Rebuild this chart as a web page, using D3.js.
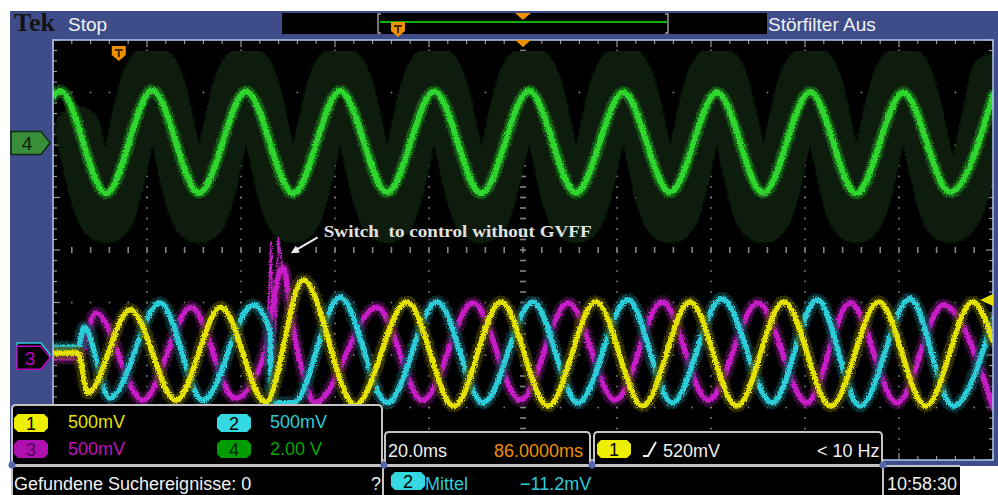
<!DOCTYPE html>
<html lang="en">
<head>
<meta charset="UTF-8">
<title>Tek Stop - switch to control without GVFF</title>
<script src="https://d3js.org/d3.v7.min.js"></script>
<style>
  body { margin: 0; background: #fff; }
  svg { display: block; }
  text { font-family: "Liberation Sans", Arial, sans-serif; }
</style>
</head>
<body>
<div id="chart"></div>
<script>
// horizontal: 20 ms/div over 10 div, vertical: 8 div
const xMajor = d3.range(0, 201, 20);
const xMinor = d3.range(0, 201, 4);
const yMajor = d3.range(-4, 5, 1);
const yMinor = d3.range(-4, 4.01, 0.2).map(v => +v.toFixed(1));

// traces: [time ms, divisions]
const ch4 = [[0, 2.93], [1.5, 3.03], [11.3, 1.08], [21.1, 3.04], [31.1, 1.09], [41.1, 3.02],
  [51.1, 1.08], [61.1, 3.03], [71.1, 1.1], [81.1, 3.02], [91.1, 1.08], [101.3, 3.03],
  [111.3, 1.09], [121.3, 3.0], [131.3, 1.1], [141.3, 3.0], [151.1, 1.09], [161.1, 3.01],
  [170.9, 1.08], [180.9, 3.0], [190.9, 1.1], [200, 2.95]];
// dark persistence band behind ch4
const ch4Persist = [[5.3, 2.3], [11.3, 0.57], [21.1, 3.45], [31.1, 0.57], [41.1, 3.45],
  [51.1, 0.57], [61.1, 3.45], [71.1, 0.57], [81.1, 3.45], [91.1, 0.57], [101.3, 3.45],
  [111.3, 0.57], [121.3, 3.45], [131.3, 0.57], [141.3, 3.45], [151.1, 0.57], [161.1, 3.45],
  [170.9, 0.57], [180.9, 3.45], [190.9, 0.57], [200, 3.3]];
const ch1 = [[0, -1.96], [5.3, -1.96], [7.4, -2.72], [16.4, -1.14], [26.2, -2.86], [35.7, -1.09],
  [45.3, -2.9], [53.2, -0.57], [64.3, -2.95], [75.3, -0.99], [85.3, -2.97], [95.3, -0.99],
  [105.3, -2.97], [115.5, -0.99], [125.5, -2.97], [135.5, -0.99], [145.5, -2.97], [155.5, -0.99],
  [165.5, -2.97], [175.7, -0.99], [185.7, -2.97], [195.7, -0.99], [200, -1.73]];
const ch2 = [[0, -1.85], [5.3, -1.85], [6.6, -1.47], [12.1, -2.82], [22.8, -1.01], [31.9, -2.86],
  [42.6, -1.05], [46.2, -1.56], [46.5, -2.9], [51.1, -2.91], [61.1, -0.9], [71.1, -2.91],
  [81.7, -0.99], [91.5, -2.91], [102.1, -0.99], [111.7, -2.91], [122.3, -0.95], [131.7, -2.91],
  [142.3, -0.93], [153.0, -2.91], [162.6, -0.95], [171.7, -2.97], [182.3, -0.93], [191.5, -2.97],
  [200, -1.3]];
const ch3 = [[0, -2.05], [5.3, -2.05], [9.1, -1.2], [19.1, -2.86], [29.4, -1.09], [38.7, -2.82],
  [44.7, -2.06], [48.9, -0.34], [51.1, -1.52], [53.2, -2.34], [55.7, -2.91], [68.9, -1.09],
  [78.7, -2.86], [89.4, -1.01], [99.4, -2.86], [109.6, -1.01], [119.6, -2.86], [129.6, -0.99],
  [139.4, -2.86], [150.0, -1.01], [160.4, -2.91], [169.6, -1.01], [179.6, -2.91], [189.4, -1.05],
  [200, -2.99]];
const ch3Spike = [[45.3, -2.2], [46.4, 0.15], [46.9, -2.9], [47.9, 0.23], [48.9, -0.34]];

// channel ground markers (div) and settings
const markerPos = { ch2: -1.99, ch3: -2.05, ch4: 2.04 };
const chLabels = ["1", "2", "3", "4"];
const chScales = ["500mV", "500mV", "500mV", "2.00 V"];
const timeDiv = "20.0ms";
const horizPos = 86.0;            // ms, trigger to centre
const trigLevel = 0.52;           // V on ch1
const ch1Offset = -1.99;          // div
const ch1VoltsDiv = 0.5;
const note = { text: "Switch  to control without GVFF", at: [57.6, 0.25], tip: [50.6, -0.06], tail: [56.3, 0.24] };

const W = 998, H = 495;
const BLUE = "#3e4c8a";
const COL = { y: "#e4e200", c: "#2ccdd8", m: "#c81ec8", g: "#2fd62f", o: "#ee9000" };

const x = d3.scaleLinear().domain([0, 200]).range([53, 993]);
const y = d3.scaleLinear().domain([-4, 4]).range([460, 40]);

const svg = d3.select("#chart").append("svg").attr("width", W).attr("height", H);
const defs = svg.append("defs");
// a little fuzz on the traces, like the scope's noisy samples
const fz = defs.append("filter").attr("id", "fuzz").attr("x", "-5%").attr("y", "-5%").attr("width", "110%").attr("height", "110%");
fz.append("feTurbulence").attr("type", "fractalNoise").attr("baseFrequency", 0.9).attr("numOctaves", 2).attr("seed", 3).attr("result", "n");
fz.append("feDisplacementMap").attr("in", "SourceGraphic").attr("in2", "n").attr("scale", 5)
  .attr("xChannelSelector", "R").attr("yChannelSelector", "G");

svg.append("rect").attr("width", W).attr("height", H).attr("fill", "#fff");
svg.append("rect").attr("x", 10).attr("y", 11).attr("width", W - 10).attr("height", 455).attr("fill", BLUE);

// plot screen
svg.append("rect").attr("x", x(0)).attr("y", y(4)).attr("width", x(200) - x(0)).attr("height", y(-4) - y(4))
  .attr("fill", "#000");

// graticule
const grid = svg.append("g").attr("fill", "#858585");
xMajor.slice(1, -1).forEach(t => {
  const c = t === 100;
  grid.append("g").selectAll("rect").data(yMinor.slice(1, -1)).join("rect")
    .attr("x", x(t) - (c ? 3 : 0.8)).attr("y", v => y(v) - 0.8)
    .attr("width", c ? 6 : 1.6).attr("height", 1.6);
});
yMajor.slice(1, -1).forEach(v => {
  const c = v === 0;
  grid.append("g").selectAll("rect").data(xMinor.slice(1, -1)).join("rect")
    .attr("x", t => x(t) - 0.8).attr("y", y(v) - (c ? 3 : 0.8))
    .attr("width", 1.6).attr("height", c ? 6 : 1.6);
});
// border ticks
const ticks = svg.append("g").attr("stroke", "#9a9a9a").attr("stroke-width", 1.2);
xMinor.forEach(t => {
  const len = t % 20 === 0 ? 7 : 4;
  ticks.append("line").attr("x1", x(t)).attr("x2", x(t)).attr("y1", y(4)).attr("y2", y(4) + len);
  ticks.append("line").attr("x1", x(t)).attr("x2", x(t)).attr("y1", y(-4)).attr("y2", y(-4) - len);
});
yMinor.forEach(v => {
  const len = Number.isInteger(v) ? 7 : 4;
  ticks.append("line").attr("x1", x(0)).attr("x2", x(0) + len).attr("y1", y(v)).attr("y2", y(v));
  ticks.append("line").attr("x1", x(200)).attr("x2", x(200) - len).attr("y1", y(v)).attr("y2", y(v));
});

// waveforms
svg.append("clipPath").attr("id", "screen").append("rect")
  .attr("x", x(0)).attr("y", y(4)).attr("width", x(200) - x(0)).attr("height", y(-4) - y(4));
const line = d3.line().x(d => x(d[0])).y(d => y(d[1])).curve(d3.curveMonotoneX);
const clip = svg.append("g").attr("clip-path", "url(#screen)");
const traces = clip.append("g").attr("filter", "url(#fuzz)")
  .attr("fill", "none").attr("stroke-linejoin", "round").attr("stroke-linecap", "round");

traces.append("path").datum(ch4Persist).attr("d", line).attr("stroke", "#081f08").attr("stroke-width", 46);
traces.append("path").datum(ch4).attr("d", line).attr("stroke", "#1e9a1e").attr("stroke-opacity", 0.5).attr("stroke-width", 12);
traces.append("path").datum(ch4).attr("d", line).attr("stroke", COL.g).attr("stroke-width", 6);

const phases = [
  { data: ch3, halo: "#4a0c4a", core: COL.m },
  { data: ch2, halo: "#0a4448", core: COL.c },
  { data: ch1, halo: "#444200", core: COL.y }
];
phases.forEach((p, i) => {
  traces.append("path").datum(p.data).attr("d", line).attr("stroke", p.halo).attr("stroke-opacity", 0.7).attr("stroke-width", 13);
  traces.append("path").datum(p.data).attr("d", line).attr("stroke", p.core).attr("stroke-width", 5.5);
  if (i === 0) {
    traces.append("path").datum(ch3Spike).attr("d", d3.line().x(d => x(d[0])).y(d => y(d[1])))
      .attr("stroke", COL.m).attr("stroke-width", 1.8);
  }
});

// plot border
svg.append("rect").attr("x", x(0)).attr("y", y(4)).attr("width", x(200) - x(0)).attr("height", y(-4) - y(4))
  .attr("fill", "none").attr("stroke", "#a6bee6").attr("stroke-width", 1.6);

// annotation
svg.append("line").attr("x1", x(note.tail[0])).attr("y1", y(note.tail[1]))
  .attr("x2", x(note.tip[0]) + 5).attr("y2", y(note.tip[1]) - 3)
  .attr("stroke", "#eee").attr("stroke-width", 2);
const ang = Math.atan2(y(note.tip[1]) - y(note.tail[1]), x(note.tip[0]) - x(note.tail[0]));
const tx = x(note.tip[0]), ty = y(note.tip[1]);
svg.append("path").attr("fill", "#eee").attr("d", () => {
  const a1 = ang + Math.PI - 0.45, a2 = ang + Math.PI + 0.45, L = 9;
  return `M${tx},${ty}L${tx + L * Math.cos(a1)},${ty + L * Math.sin(a1)}L${tx + L * Math.cos(a2)},${ty + L * Math.sin(a2)}Z`;
});
svg.append("text").attr("x", x(note.at[0])).attr("y", y(note.at[1]))
  .style("white-space", "pre").style("font-family", "'Liberation Serif', 'Times New Roman', serif")
  .attr("font-size", 17).attr("font-weight", "bold").attr("fill", "#e2e2e2")
  .attr("textLength", 268).attr("lengthAdjust", "spacingAndGlyphs")
  .text(note.text);

// orange markers
const trigX = x(100 - horizPos);
function tMarker(cx, top) {
  const g = svg.append("g").attr("transform", `translate(${cx},${top})`);
  g.append("path").attr("d", "M-7,0H7V9L0,15L-7,9Z").attr("fill", COL.o);
  g.append("path").attr("d", "M-4,3H4V5H1V11H-1V5H-4Z").attr("fill", "#4a2a00");
}
function tri(cx, top) {
  svg.append("path").attr("d", `M${cx - 8},${top}H${cx + 8}L${cx},${top + 7}Z`).attr("fill", COL.o);
}
tMarker(trigX, y(4) + 6);
tri(x(100), y(4));

// trigger level arrow (right side)
const trigY = y(ch1Offset + trigLevel / ch1VoltsDiv);
svg.append("path").attr("d", `M${x(200) - 13},${trigY}L${x(200)},${trigY - 6}V${trigY + 6}Z`).attr("fill", COL.y);

// channel markers
function chMarker(v, x0, fill, stroke, label, tcol) {
  const cy = y(v), h = 23, x1 = 41, x2 = 50;
  const g = svg.append("g");
  g.append("path").attr("d", `M${x0},${cy - h / 2}H${x1}L${x2},${cy}L${x1},${cy + h / 2}H${x0}Z`)
    .attr("fill", fill).attr("stroke", stroke).attr("stroke-width", 1.5);
  if (label) g.append("text").attr("x", (x0 + x1) / 2 + 1).attr("y", cy + 7).attr("text-anchor", "middle")
    .attr("font-size", 19).attr("fill", tcol).text(label);
}
chMarker(markerPos.ch4, 11, "#3a8e3a", "#102810", chLabels[3], "#0c200c");
chMarker(markerPos.ch2, 17, "#000", COL.c, "", COL.c);
chMarker(markerPos.ch3, 17, "#000", "#c000c0", chLabels[2], "#c000c0");

// top bar
svg.append("text").attr("x", 14).attr("y", 31).style("font-family", "'Liberation Serif', serif")
  .attr("font-weight", "bold").attr("font-size", 26).attr("fill", "#141414").text("Tek");
svg.append("text").attr("x", 68).attr("y", 31).attr("font-size", 19).attr("fill", "#f2f2f2").text("Stop");
svg.append("text").attr("x", 768).attr("y", 31).attr("font-size", 19).attr("fill", "#f2f2f2").text("Störfilter Aus");
svg.append("rect").attr("x", 282).attr("y", 13).attr("width", 485).attr("height", 21).attr("fill", "#000");
svg.append("line").attr("x1", 380).attr("x2", 667).attr("y1", 22).attr("y2", 22).attr("stroke", "#10b010").attr("stroke-width", 2);
svg.append("path").attr("d", "M381,14H378V33H381M665,14H668V33H665").attr("fill", "none").attr("stroke", "#9a9a9a").attr("stroke-width", 1.5);
tMarker(398, 22);
tri(523, 13);

// bottom readouts
function panel(x0, y0, x1, y1) {
  svg.append("path").attr("d", `M${x0},${y1}V${y0 + 4}Q${x0},${y0} ${x0 + 4},${y0}H${x1 - 4}Q${x1},${y0} ${x1},${y0 + 4}V${y1}Z`)
    .attr("fill", "#000").attr("stroke", "#c4c4c4").attr("stroke-width", 2);
}
function pill(cx, cy, fill, label, tcol) {
  svg.append("path").attr("d", `M${cx - 13},${cy - 9}H${cx + 13}L${cx + 17},${cy - 5}V${cy + 5}L${cx + 13},${cy + 9}H${cx - 13}L${cx - 17},${cy + 5}V${cy - 5}Z`)
    .attr("fill", fill);
  svg.append("text").attr("x", cx).attr("y", cy + 7).attr("text-anchor", "middle")
    .attr("font-size", 18).attr("fill", tcol).text(label);
}
function label(x0, y0, txt, col) {
  svg.append("text").attr("x", x0).attr("y", y0).attr("font-size", 18).attr("fill", col).text(txt);
}
panel(12, 405, 382, 465);
panel(385, 432, 590, 465);
panel(594, 432, 882, 465);
svg.append("rect").attr("x", 11).attr("y", 466).attr("width", 949).attr("height", 29).attr("fill", "#000");
svg.append("line").attr("x1", 11).attr("x2", 960).attr("y1", 466).attr("y2", 466).attr("stroke", "#c4c4c4").attr("stroke-width", 2);
svg.append("path").attr("d", "M12,466V495M383,466V495M883,466V495").attr("stroke", "#c4c4c4").attr("stroke-width", 2);
[[12, 465], [384, 465], [592, 465], [883, 465]].forEach(p =>
  svg.append("circle").attr("cx", p[0]).attr("cy", p[1]).attr("r", 3.5).attr("fill", "#5666a8"));

pill(31, 423, "#eeee00", chLabels[0], "#000");
label(68, 428, chScales[0], COL.y);
pill(234, 423, "#33d8e0", chLabels[1], "#000");
label(270, 428, chScales[1], COL.c);
pill(31, 449, "#b010b0", chLabels[2], "#500050");
label(68, 455, chScales[2], "#c010c0");
pill(234, 449, "#009c00", chLabels[3], "#002800");
label(270, 455, chScales[3], "#00a800");

label(388, 457, timeDiv, "#f0f0f0");
label(494, 457, horizPos.toFixed(4) + "ms", COL.o);
pill(614, 449, "#eeee00", chLabels[0], "#000");
svg.append("path").attr("d", "M643,456H648L656,442").attr("fill", "none").attr("stroke", "#f0f0f0").attr("stroke-width", 2);
label(663, 457, (trigLevel * 1000).toFixed(0) + "mV", "#f0f0f0");
label(817, 457, "< 10 Hz", "#f0f0f0");

label(14, 490, "Gefundene Suchereignisse: 0", "#f0f0f0");
label(371, 490, "?", "#f0f0f0");
pill(408, 481, "#33d8e0", chLabels[1], "#000");
label(425, 490, "Mittel", COL.c);
label(520, 490, "\u221211.2mV", COL.c);
label(887, 490, "10:58:30", "#f0f0f0");
</script>
</body>
</html>
